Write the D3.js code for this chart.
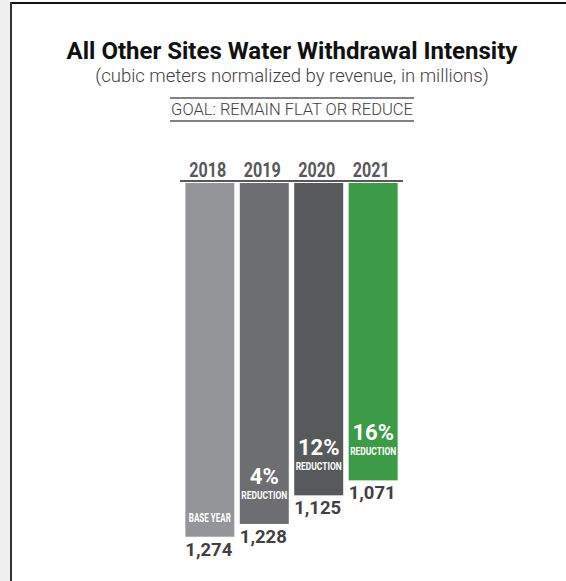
<!DOCTYPE html>
<html>
<head>
<meta charset="utf-8">
<script src="https://cdn.jsdelivr.net/npm/d3@7"></script>
<style>
  html, body { margin: 0; padding: 0; background: #ffffff; }
  svg { display: block; }
</style>
</head>
<body>
<div id="chart"></div>
<script>
// ---- data ----
const years = ["2018", "2019", "2020", "2021"];
const values = [1274, 1228, 1125, 1071];
const valueLabels = ["1,274", "1,228", "1,125", "1,071"];
const reductionPct = [null, "4%", "12%", "16%"];
const barNotes = ["BASE YEAR", "REDUCTION", "REDUCTION", "REDUCTION"];
const barColors = ["#939598", "#6d6e71", "#58595b", "#3d9a47"];

const titleText = "All Other Sites Water Withdrawal Intensity";
const subtitleText = "(cubic meters normalized by revenue, in millions)";
const goalText = "GOAL: REMAIN FLAT OR REDUCE";

// ---- layout ----
const W = 566, H = 581;
const svg = d3.select("#chart").append("svg").attr("width", W).attr("height", H);

// frame
svg.append("rect").attr("x", 0).attr("y", 0).attr("width", 10).attr("height", H).attr("fill", "#f0f0f0");
svg.append("rect").attr("x", 10).attr("y", 2).attr("width", W - 10).attr("height", 2).attr("fill", "#111");
svg.append("rect").attr("x", 10).attr("y", 2).attr("width", 2).attr("height", H).attr("fill", "#333");

const cx = 292;
svg.append("text").attr("x", cx).attr("y", 59).attr("text-anchor", "middle")
  .attr("font-family", "Roboto").attr("font-weight", 700).attr("font-size", 24)
  .attr("fill", "#111").text(titleText);
svg.append("text").attr("x", cx).attr("y", 82).attr("text-anchor", "middle")
  .attr("font-family", "Roboto").attr("font-weight", 300).attr("font-size", 18.5)
  .attr("fill", "#414042").text(subtitleText);

const goalX0 = 170, goalX1 = 414;
svg.append("line").attr("x1", goalX0).attr("x2", goalX1).attr("y1", 98).attr("y2", 98)
  .attr("stroke", "#58595b").attr("stroke-width", 1.5);
svg.append("line").attr("x1", goalX0).attr("x2", goalX1).attr("y1", 121).attr("y2", 121)
  .attr("stroke", "#58595b").attr("stroke-width", 1.5);
svg.append("text").attr("x", cx).attr("y", 115).attr("text-anchor", "middle")
  .attr("font-family", "Roboto").attr("font-weight", 300).attr("font-size", 16.5)
  .attr("fill", "#414042").text(goalText);

// bars (hanging from top line)
const topY = 183;
const x = d3.scaleBand().domain(years).range([181, 402]).paddingInner(0.1).paddingOuter(0.08);
const h = d3.scaleLinear().domain([0, 1274]).range([0, 353.7]);

// year labels
svg.selectAll("text.year").data(years).join("text").attr("class", "year")
  .attr("x", d => x(d) + x.bandwidth() / 2 - 2).attr("y", 176.5).attr("text-anchor", "middle")
  .attr("font-family", "Roboto").attr("font-weight", 700).attr("font-size", 20)
  .attr("textLength", 37).attr("lengthAdjust", "spacingAndGlyphs")
  .attr("fill", "#58595b").text(d => d);

svg.append("line").attr("x1", 180).attr("x2", 403).attr("y1", 181).attr("y2", 181)
  .attr("stroke", "#231f20").attr("stroke-width", 1.5);

const g = svg.append("g");
years.forEach((yr, i) => {
  const bx = x(yr), bw = x.bandwidth(), bh = h(values[i]);
  const mid = bx + bw / 2, bottom = topY + bh;
  g.append("rect").attr("x", bx).attr("y", topY).attr("width", bw).attr("height", bh)
    .attr("fill", barColors[i]);
  g.append("text").attr("x", mid - 1).attr("y", bottom + 19).attr("text-anchor", "middle")
    .attr("font-family", "Roboto").attr("font-weight", 700).attr("font-size", 18.5)
    .attr("fill", "#414042").text(valueLabels[i]);
  if (reductionPct[i]) {
    g.append("text").attr("x", mid).attr("y", bottom - 40).attr("text-anchor", "middle")
      .attr("font-family", "Roboto").attr("font-weight", 700).attr("font-size", 22)
      .attr("fill", "#ffffff").text(reductionPct[i]);
    g.append("text").attr("x", mid).attr("y", bottom - 25).attr("text-anchor", "middle")
      .attr("font-family", "Roboto").attr("font-weight", 700).attr("font-size", 11.5)
      .attr("textLength", 46).attr("lengthAdjust", "spacingAndGlyphs")
      .attr("fill", "#ffffff").text(barNotes[i]);
  } else {
    g.append("text").attr("x", mid).attr("y", bottom - 15).attr("text-anchor", "middle")
      .attr("font-family", "Roboto").attr("font-weight", 700).attr("font-size", 12)
      .attr("textLength", 42).attr("lengthAdjust", "spacingAndGlyphs")
      .attr("fill", "#ffffff").text(barNotes[i]);
  }
});
</script>
</body>
</html>
